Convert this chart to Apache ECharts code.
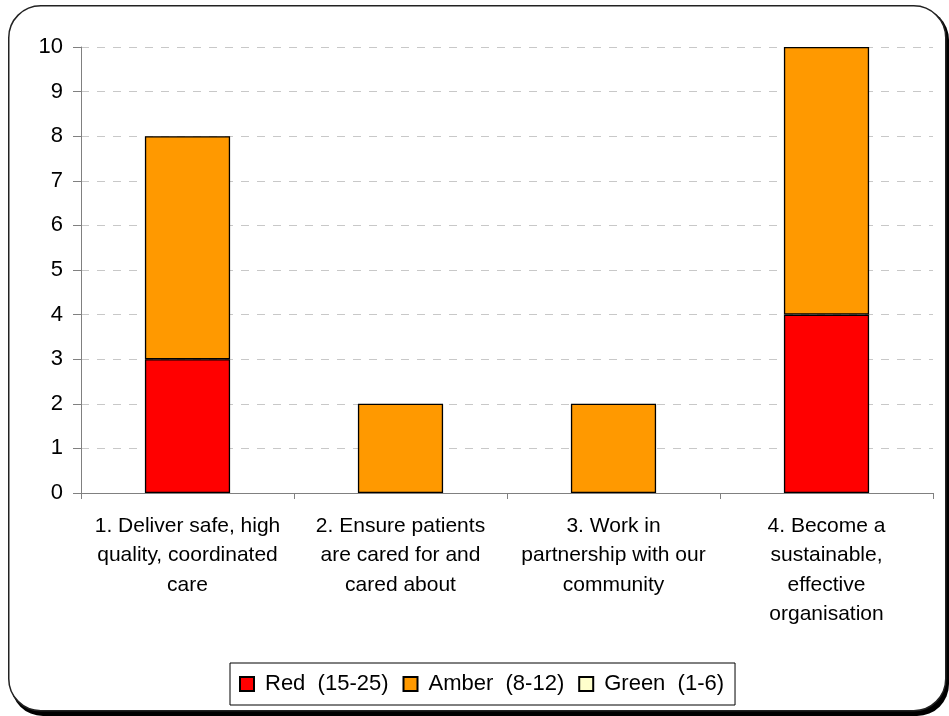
<!DOCTYPE html>
<html><head><meta charset="utf-8">
<script src="https://cdn.jsdelivr.net/npm/echarts@6/dist/echarts.min.js"></script>
<style>html,body{margin:0;padding:0;background:#fff}#c{width:949px;height:716px}</style>
</head><body><div id="c"></div>
<script>
const categories = [
  "1. Deliver safe, high\nquality, coordinated\ncare",
  "2. Ensure patients\nare cared for and\ncared about",
  "3. Work in\npartnership with our\ncommunity",
  "4. Become a\nsustainable,\neffective\norganisation"
];
const redValues = [3, 0, 0, 4];
const amberValues = [5, 2, 2, 6];
const greenValues = [0, 0, 0, 0];
const seriesNames = ["Red  (15-25)", "Amber  (8-12)", "Green  (1-6)"];
const yTicks = [0, 1, 2, 3, 4, 5, 6, 7, 8, 9, 10];

const chart = echarts.init(document.getElementById('c'));
const font = 'Liberation Sans, Arial, sans-serif';
function mk(name, data, color) {
  return {
    name: name, type: 'bar', stack: 'total',
    data: data.map(v => v === 0 ? null : v), barWidth: '40%',
    itemStyle: { color: color, borderColor: '#000', borderWidth: 1.3 },
    emphasis: { disabled: true }
  };
}
chart.setOption({
  animation: false,
  graphic: [
    { type: 'rect', left: 11, top: 8,
      shape: { width: 938, height: 708, r: 32 },
      style: { fill: '#000' }, z: -11 },
    { type: 'rect', left: 8, top: 5,
      shape: { width: 937, height: 705, r: 32 },
      style: { fill: '#fff', stroke: '#222', lineWidth: 1.5 }, z: -10 }
  ],
  grid: { left: 81, right: 16, top: 47, bottom: 223 },
  legend: {
    bottom: 11, left: 230,
    itemWidth: 14, itemHeight: 14, itemGap: 14,
    borderColor: '#000', borderWidth: 1, padding: [10, 11, 10, 9],
    textStyle: { fontFamily: font, fontSize: 22, color: '#000', padding: [0, 0, 0, 6] },
    data: seriesNames.map(n => ({ name: n, icon: 'rect' }))
  },
  xAxis: {
    type: 'category', data: categories,
    axisLine: { lineStyle: { color: '#808080', width: 1 } },
    axisTick: { show: true, lineStyle: { color: '#808080' }, length: 6 },
    axisLabel: { interval: 0, fontFamily: font, fontSize: 21, color: '#000', lineHeight: 29.5, margin: 18 }
  },
  yAxis: {
    type: 'value', min: 0, max: 10, interval: 1,
    axisLine: { show: true, lineStyle: { color: '#808080' } },
    axisTick: { show: true, lineStyle: { color: '#808080' }, length: 8 },
    axisLabel: { fontFamily: font, fontSize: 22, color: '#000', margin: 18,
      formatter: v => yTicks.includes(v) ? String(v) : '' },
    splitLine: { lineStyle: { color: '#c8c8c8', type: [8, 8] } }
  },
  series: [
    mk(seriesNames[0], redValues, '#ff0000'),
    mk(seriesNames[1], amberValues, '#ff9900'),
    mk(seriesNames[2], greenValues, '#ffffcc')
  ]
});
</script></body></html>
